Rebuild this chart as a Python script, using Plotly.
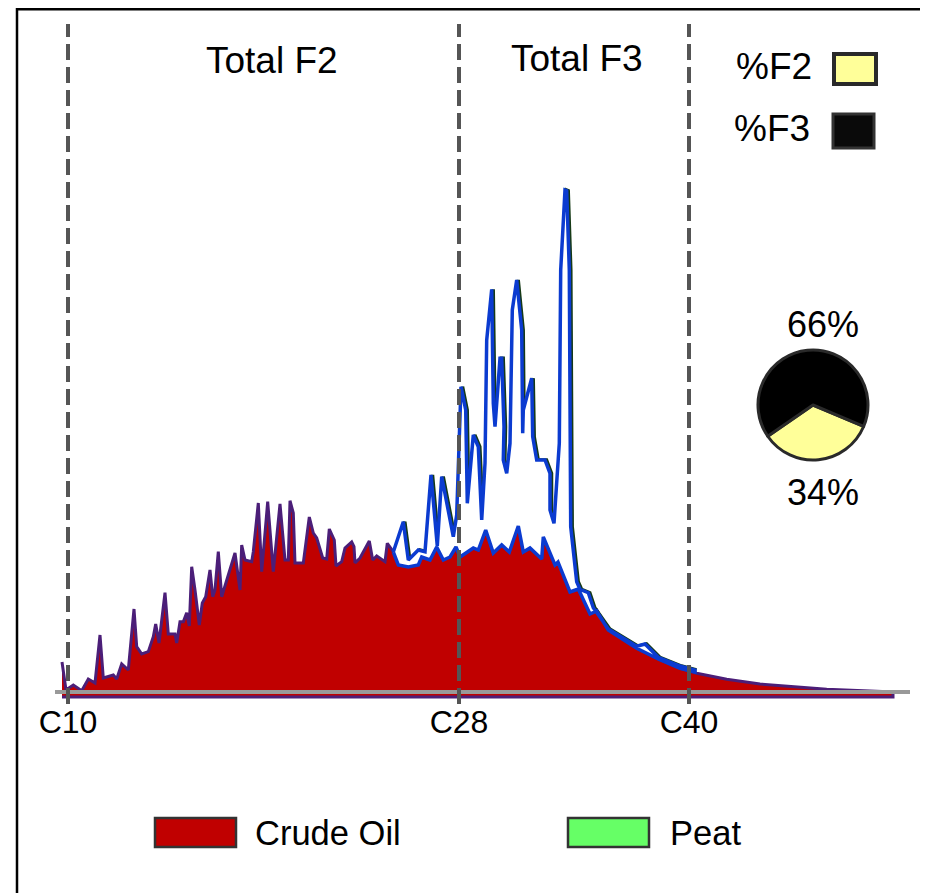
import plotly.graph_objects as go

# ---------------- data ----------------
# retention time (arbitrary units) and abundance (arbitrary units)
crude_rt = [0.5, 0.9, 1.63, 2.47, 3.13, 3.8, 4.3, 4.63, 5.63, 5.97, 6.47, 7.13, 7.7, 7.97, 8.47,
            9.13, 9.63, 9.87, 10.2, 10.8, 11.13, 11.8, 11.97, 12.3, 12.63, 12.97, 13.23, 13.47,
            13.8, 14.23, 14.53, 14.87, 15.3, 15.57, 15.8, 16.13, 16.47, 17.8, 18.3, 18.47, 18.8,
            19.47, 19.63, 20.13, 20.47, 21.07, 21.63, 22.3, 22.8, 23.13, 23.3, 23.63, 23.8, 24.63,
            25.23, 25.63, 25.97, 26.57, 26.97, 27.23, 27.73, 27.9, 28.47, 28.8, 29.47, 29.7, 29.8,
            30.3, 31.23, 31.57, 31.97, 32.47, 32.8, 33.03, 33.63, 34.13, 35.13, 35.9, 36.47, 37.13,
            37.97, 38.63, 39.3, 39.9, 40.3, 41.63, 42.13, 42.87, 43.63, 44.47, 45.23, 46.13, 46.63,
            47.3, 48.47, 48.63, 49.8, 50.1, 51.3, 52.13, 53.3, 53.97, 55.13, 57.97, 60.3, 62.3,
            63.97, 66.97, 70.3, 76.97, 82.3, 83.6]
crude_ab = [6.0, 0.4, 1.4, 0.26, 2.6, 1.8, 11.4, 2.8, 3.4, 2.6, 5.6, 4.4, 16.6, 9.06, 7.6,
            8.06, 11.06, 13.6, 9.8, 19.86, 11.6, 11.6, 9.8, 14.06, 14.06, 15.86, 13.2, 25.06,
            20.4, 13.4, 17.8, 19.06, 24.4, 19.06, 20.4, 28.06, 19.06, 27.8, 20.4, 29.4, 26.4,
            26.06, 28.06, 37.8, 24.06, 38.06, 24.06, 37.6, 26.4, 26.4, 38.26, 35.8, 25.8, 25.8,
            35.0, 31.8, 30.8, 26.8, 26.6, 32.6, 30.4, 25.2, 26.06, 28.8, 30.0, 29.06, 25.8,
            26.8, 30.2, 26.4, 27.2, 26.6, 26.06, 29.74, 28.06, 26.0, 25.6, 26.0, 27.0, 27.0,
            28.8, 26.6, 27.0, 28.8, 27.0, 28.8, 28.4, 32.4, 27.8, 29.4, 28.0, 33.2, 28.0,
            28.8, 26.6, 31.0, 25.8, 26.2, 20.06, 20.74, 15.74, 16.4, 12.4, 8.74, 6.4, 4.74,
            3.74, 2.54, 1.6, 0.54, 0.0, 0.0]
crude_base = -1.0

peat_upper_rt = [33.63, 34.63, 35.13, 36.13, 36.8, 37.4, 38.03, 38.47, 39.63, 39.97, 40.4, 40.87,
                 41.03, 41.63, 42.13, 42.47, 42.8, 42.97, 43.47, 43.63, 43.8, 44.3, 44.47, 44.7,
                 44.63, 44.97, 45.3, 45.53, 45.97, 46.47, 46.57, 46.63, 47.47, 47.57, 47.97, 48.8,
                 49.3, 49.3, 49.7, 50.23, 50.37, 50.8, 50.97, 51.23, 51.37, 51.97, 52.3, 53.13,
                 53.63, 55.13, 57.97, 58.8, 60.13, 62.3, 63.8]
peat_upper_ab = [28.0, 34.06, 26.4, 28.4, 28.06, 43.4, 29.2, 43.06, 31.06, 35.4, 61.06, 56.4,
                 37.74, 51.4, 49.06, 34.4, 45.74, 70.4, 80.54, 57.74, 53.06, 66.74, 66.74, 53.06,
                 46.4, 43.74, 49.74, 76.4, 82.4, 72.4, 51.74, 56.4, 62.74, 51.06, 46.4, 46.4,
                 43.74, 36.4, 33.74, 49.74, 84.4, 100.4, 100.26, 84.4, 33.06, 22.06, 20.54, 19.86,
                 16.86, 12.6, 9.14, 9.6, 6.94, 5.2, 4.4]
peat_lower_rt = [63.8, 62.3, 60.13, 57.97, 55.13, 53.97, 53.3, 52.13, 51.3, 50.1, 49.8, 48.63,
                 48.47, 47.3, 46.63, 46.13, 45.23, 44.47, 43.63, 42.87, 42.13, 41.63, 40.3, 39.9,
                 39.3, 38.63, 37.97, 37.3, 36.47, 36.13, 35.13, 34.13, 33.63]
peat_lower_ab = [4.0, 4.74, 6.6, 8.74, 12.4, 16.2, 15.6, 20.6, 20.0, 26.0, 25.4, 31.0,
                 26.6, 28.8, 28.0, 33.2, 28.0, 29.4, 27.8, 32.4, 28.4, 28.8, 27.0, 29.0,
                 27.0, 26.4, 29.0, 26.4, 27.0, 25.4, 25.0, 25.4, 28.0]

carbon_rt = [1.1, 40.2, 63.2]
carbon_labels = ["C10", "C28", "C40"]
fraction_labels = ["%F2", "%F3"]
fraction_pct = [34, 66]
fraction_titles = ["Total F2", "Total F3"]

# ---------------- layout helpers ----------------
# the page places the figure 8px from the window's top-left corner
OFF = 8
W_FIG, H_FIG = 928 - OFF, 893 - OFF
# plot area in window (screen) pixels
L, R_EDGE, T, B = 57, 910, 20, 700
PW, PH = R_EDGE - L, B - T


def pxx(px):
    return (px - L) / PW


def pxy(py):
    return (B - py) / PH


FONT = "Liberation Sans, Arial, sans-serif"
RED = "#C00000"
PURPLE = "#4B1E78"
BLUE = "#0B3BD0"
SHADOW = "#163A16"
YELLOW = "#FFFF99"
GREEN = "#66FF66"

fig = go.Figure()

# crude oil: filled polygon down to a baseline
fig.add_trace(go.Scatter(
    x=crude_rt + [crude_rt[-1], crude_rt[0]],
    y=crude_ab + [crude_base, crude_base],
    fill="toself", fillcolor=RED, mode="lines",
    line=dict(color=PURPLE, width=3), hoverinfo="skip", showlegend=False))

# peat: shadow of the upper envelope, then white polygon with blue outline
fig.add_trace(go.Scatter(
    x=[v + 0.15 for v in peat_upper_rt], y=peat_upper_ab, mode="lines",
    line=dict(color=SHADOW, width=3.5), hoverinfo="skip", showlegend=False))
fig.add_trace(go.Scatter(
    x=peat_upper_rt + peat_lower_rt, y=peat_upper_ab + peat_lower_ab,
    fill="toself", fillcolor="white", mode="lines",
    line=dict(color=BLUE, width=3.5), hoverinfo="skip", showlegend=False))

# pie of fractions
fig.add_trace(go.Pie(
    values=fraction_pct, labels=fraction_labels, sort=False, direction="clockwise",
    rotation=113, textinfo="none", hoverinfo="skip", showlegend=False,
    marker=dict(colors=[YELLOW, "#000000"], line=dict(color="#2A2A2A", width=3)),
    domain=dict(x=[pxx(758), pxx(868)], y=[pxy(460), pxy(350)])))

shapes = []
# outer frame (top edge sits at the very top of the figure)
shapes.append(dict(type="rect", xref="paper", yref="paper",
                   x0=pxx(17), x1=pxx(945), y0=pxy(910), y1=pxy(9.2),
                   line=dict(color="black", width=2.5), fillcolor="rgba(0,0,0,0)", layer="above"))
# baseline
shapes.append(dict(type="line", xref="paper", yref="y", x0=pxx(55), x1=pxx(910), y0=0, y1=0,
                   line=dict(color="#999999", width=4), layer="above"))
# dashed carbon markers
for rt in carbon_rt:
    shapes.append(dict(type="line", xref="x", yref="paper", x0=rt, x1=rt,
                       y0=pxy(704), y1=pxy(24),
                       line=dict(color="#555555", width=4, dash="16px,7px"), layer="above"))
# legend swatches (fractions)
shapes.append(dict(type="rect", xref="paper", yref="paper", x0=pxx(834), x1=pxx(876),
                   y0=pxy(84), y1=pxy(54), fillcolor=YELLOW, line=dict(color="#2A2A2A", width=4)))
shapes.append(dict(type="rect", xref="paper", yref="paper", x0=pxx(833), x1=pxx(874),
                   y0=pxy(148), y1=pxy(114), fillcolor="#0A0A0A", line=dict(color="#333333", width=3)))
# bottom legend swatches
shapes.append(dict(type="rect", xref="paper", yref="paper", x0=pxx(155), x1=pxx(236),
                   y0=pxy(847), y1=pxy(818), fillcolor=RED, line=dict(color="#333333", width=2.5)))
shapes.append(dict(type="rect", xref="paper", yref="paper", x0=pxx(568), x1=pxx(649),
                   y0=pxy(847), y1=pxy(818), fillcolor=GREEN, line=dict(color="#333333", width=2.5)))

ann = []


def text(s, px, py, size, anchor="center"):
    ann.append(dict(text=s, xref="paper", yref="paper", x=pxx(px), y=pxy(py),
                    xanchor=anchor, yanchor="middle", showarrow=False,
                    font=dict(family=FONT, size=size, color="black")))


text(fraction_titles[0], 272, 60, 37)
text(fraction_titles[1], 577, 58, 37)
text(fraction_labels[0], 814, 67, 37, "right")
text(fraction_labels[1], 812, 128, 37, "right")
text(f"{fraction_pct[1]}%", 823, 324, 36)
text(f"{fraction_pct[0]}%", 823, 492, 36)
text("Crude Oil", 253, 833, 34.5, "left")
text("Peat", 668, 833, 34.5, "left")

fig.update_layout(
    width=W_FIG, height=H_FIG,
    margin=dict(l=L - OFF, r=W_FIG - (R_EDGE - OFF), t=T - OFF, b=H_FIG - (B - OFF)),
    paper_bgcolor="white", plot_bgcolor="white",
    shapes=shapes, annotations=ann,
    xaxis=dict(range=[0, PW / 10], showgrid=False, zeroline=False, showline=False,
               tickvals=carbon_rt, ticktext=carbon_labels, ticks="",
               tickfont=dict(family=FONT, size=32, color="black")),
    yaxis=dict(range=[(692 - B) / 5, (692 - T) / 5], visible=False),
)

fig.write_html("out.html")
